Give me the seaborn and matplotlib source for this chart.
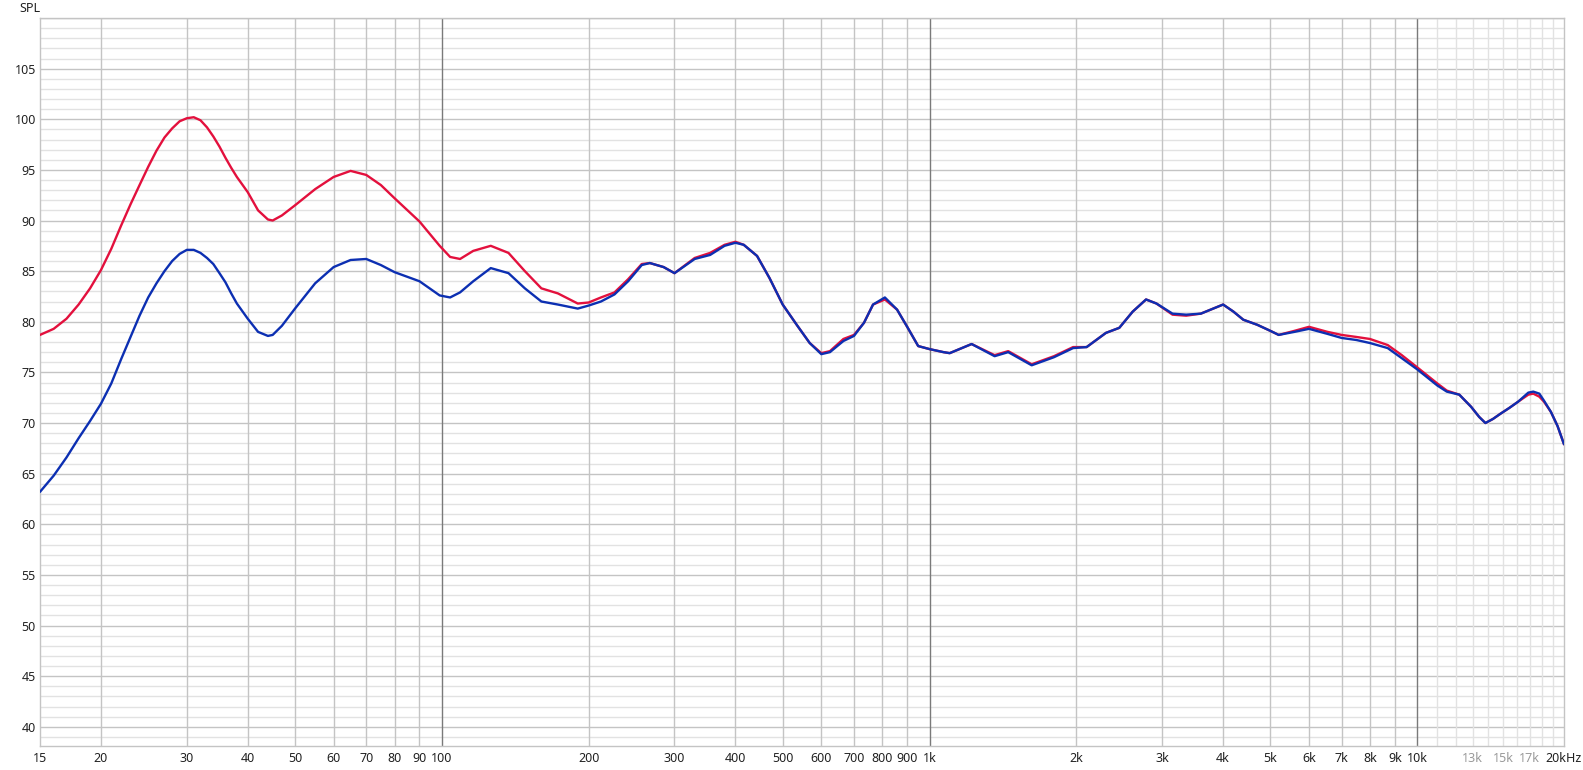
import numpy as np
import pandas as pd
import matplotlib
matplotlib.use("Agg")
import matplotlib.pyplot as plt
from matplotlib.ticker import FixedLocator, NullFormatter, NullLocator
import seaborn as sns

# frequency response readings (Hz / dB SPL)
freq = [15, 16, 17, 18, 19, 20, 21, 22, 23, 24, 25, 26, 27, 28, 29, 30, 31, 32, 33, 34,
        35, 36, 37, 38, 40, 42, 44, 45, 47, 50, 55, 60, 65, 70, 75, 80, 90,
        99, 104, 109, 116, 126, 137, 148, 160, 173, 190, 200, 212, 226, 241, 257, 267, 285, 300,
        330, 355, 380, 400, 416, 443, 470, 500, 536, 568, 600, 625, 666, 700, 734, 766, 810, 858, 900, 948,
        1000, 1068, 1100, 1220, 1360, 1450, 1620, 1800, 1970, 2100, 2300, 2450, 2610, 2780, 2920,
        3150, 3360, 3600, 4000, 4200, 4400, 4700, 5000, 5200, 5600, 6000, 6550, 7000, 7500, 8000, 8700, 9300,
        10000, 11000, 11500, 12200, 12900, 13400, 13800, 14300, 14800, 15460, 16100, 16900, 17300, 17800, 18200,
        18800, 19400, 20000]

spl_red = [78.7, 79.3, 80.3, 81.7, 83.3, 85.1, 87.2, 89.5, 91.6, 93.5, 95.3, 96.9, 98.2, 99.1, 99.8, 100.1, 100.2, 99.9, 99.2, 98.3,
           97.3, 96.2, 95.2, 94.3, 92.8, 91.0, 90.1, 90.0, 90.5, 91.5, 93.1, 94.3, 94.9, 94.5, 93.5, 92.2, 89.9,
           87.5, 86.4, 86.2, 87.0, 87.5, 86.8, 85.0, 83.3, 82.8, 81.8, 81.9, 82.4, 82.9, 84.2, 85.7, 85.8, 85.4, 84.8,
           86.3, 86.8, 87.6, 87.9, 87.6, 86.5, 84.3, 81.7, 79.6, 77.9, 76.9, 77.1, 78.3, 78.7, 79.9, 81.7, 82.2, 81.2, 79.5, 77.6,
           77.3, 77.0, 76.9, 77.8, 76.7, 77.1, 75.8, 76.6, 77.5, 77.5, 78.9, 79.4, 81.0, 82.2, 81.8,
           80.7, 80.6, 80.8, 81.7, 81.0, 80.2, 79.7, 79.1, 78.7, 79.1, 79.5, 79.0, 78.7, 78.5, 78.3, 77.7, 76.7,
           75.5, 73.9, 73.2, 72.8, 71.6, 70.6, 70.0, 70.4, 70.9, 71.5, 72.1, 72.8, 72.9, 72.6, 72.1,
           71.1, 69.7, 67.9]

spl_blue = [63.2, 64.8, 66.6, 68.5, 70.2, 71.9, 73.9, 76.3, 78.5, 80.6, 82.4, 83.8, 85.0, 86.0, 86.7, 87.1, 87.1, 86.8, 86.3, 85.7,
            84.8, 83.9, 82.8, 81.8, 80.3, 79.0, 78.6, 78.7, 79.6, 81.3, 83.8, 85.4, 86.1, 86.2, 85.6, 84.9, 84.0,
            82.6, 82.4, 82.9, 84.0, 85.3, 84.8, 83.3, 82.0, 81.7, 81.3, 81.6, 82.0, 82.7, 84.0, 85.6, 85.8, 85.4, 84.8,
            86.2, 86.6, 87.5, 87.8, 87.6, 86.5, 84.3, 81.7, 79.6, 77.9, 76.8, 77.0, 78.1, 78.6, 79.9, 81.7, 82.4, 81.2, 79.5, 77.6,
            77.3, 77.0, 76.9, 77.8, 76.6, 77.0, 75.7, 76.5, 77.4, 77.5, 78.9, 79.4, 81.0, 82.2, 81.8,
            80.8, 80.7, 80.8, 81.7, 81.0, 80.2, 79.7, 79.1, 78.7, 79.0, 79.3, 78.8, 78.4, 78.2, 77.9, 77.4, 76.4,
            75.3, 73.7, 73.1, 72.8, 71.6, 70.6, 70.0, 70.4, 70.9, 71.5, 72.1, 73.0, 73.1, 72.9, 72.2,
            71.1, 69.7, 67.9]

x_ticks = [15, 20, 30, 40, 50, 60, 70, 80, 90, 100, 200, 300, 400, 500, 600, 700, 800, 900,
           1000, 2000, 3000, 4000, 5000, 6000, 7000, 8000, 9000, 10000, 13000, 15000, 17000, 20000]
x_labels = ["15", "20", "30", "40", "50", "60", "70", "80", "90", "100", "200", "300", "400", "500",
            "600", "700", "800", "900", "1k", "2k", "3k", "4k", "5k", "6k", "7k", "8k", "9k", "10k",
            "13k", "15k", "17k", "20kHz"]
y_ticks = list(range(40, 110, 5))

red = "#e3103d"
blue = "#0c2fb2"

df = pd.DataFrame({"freq": freq * 2,
                   "spl": spl_red + spl_blue,
                   "curve": ["a"] * len(freq) + ["b"] * len(freq)})

sns.set_style("white")
plt.rcParams["font.family"] = ["Noto Sans", "DejaVu Sans"]

fig = plt.figure(figsize=(15.83, 7.70), dpi=100)
fig.patch.set_facecolor("white")
ax = fig.add_axes([40 / 1583, 24 / 770, 1524 / 1583, 728 / 770])

ax.set_xscale("log")
ax.set_xlim(15, 20000)
ax.set_ylim(38.1, 110)

# horizontal grid, 1 dB steps, heavier every 5 dB
for v in range(39, 111):
    major = v % 5 == 0
    ax.axhline(v, color="#c4c4c4" if major else "#e2e2e2", lw=1.0, zorder=0)

# vertical grid
for d in [10, 100, 1000]:
    for m in range(2, 10):
        f = d * m
        if 15 < f < 20000:
            ax.axvline(f, color="#c4c4c4", lw=1.0, zorder=0.5)
for f in range(11000, 20000, 1000):
    ax.axvline(f, color="#e2e2e2", lw=1.0, zorder=0.2)
for f in [100, 1000, 10000]:
    ax.axvline(f, color="#7a7a7a", lw=1.0, zorder=0.6)

sns.lineplot(data=df, x="freq", y="spl", hue="curve", palette={"a": red, "b": blue},
             lw=1.7, sort=False, legend=False, ax=ax, zorder=3)

ax.xaxis.set_major_locator(FixedLocator(x_ticks))
ax.set_xticklabels(x_labels)
ax.xaxis.set_minor_locator(NullLocator())
ax.xaxis.set_minor_formatter(NullFormatter())
ax.set_yticks(y_ticks)
ax.set_yticklabels([str(v) for v in y_ticks])
ax.tick_params(axis="both", length=0, labelsize=9, colors="#222222")
ax.tick_params(axis="x", pad=4)
ax.tick_params(axis="y", pad=3)
for lbl, t in zip(ax.get_xticklabels(), x_ticks):
    if t in (13000, 15000, 17000):
        lbl.set_color("#9a9a9a")
ax.set_xlabel("")
ax.set_ylabel("")

for s in ax.spines.values():
    s.set_color("#c4c4c4")
    s.set_linewidth(1.0)

fig.text(19 / 1583, 1 - 8 / 770, "SPL", fontsize=9, color="#222222", va="center", ha="left")

fig.savefig("out.png", dpi=100)
